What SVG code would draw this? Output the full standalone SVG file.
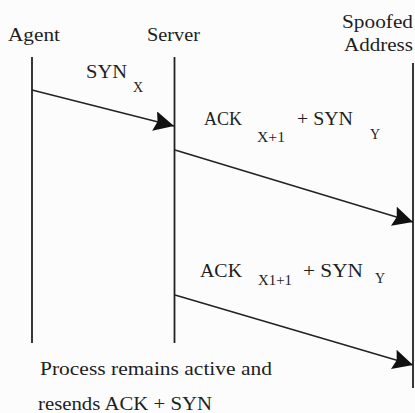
<svg xmlns="http://www.w3.org/2000/svg" width="415" height="413" viewBox="0 0 415 413">
  <style>
    text { font-family: "Liberation Serif", "Times New Roman", serif; fill: #1e1e1e; }
    .lbl { font-size: 18.5px; }
    .sub { font-size: 14px; }
    .life { stroke: #222; stroke-width: 1.8; fill: none; }
    .msg { stroke: #222; stroke-width: 1.5; fill: none; marker-end: url(#head); }
  </style>
  <defs>
    <marker id="head" viewBox="0 0 20 20" refX="20" refY="10" markerWidth="20" markerHeight="20" markerUnits="userSpaceOnUse" orient="auto">
      <path d="M0,0 L20,10 L0,20 L3,10 z" fill="#111"/>
    </marker>
  </defs>
  <rect width="415" height="413" fill="#fcfcfc"/>

  <g id="agent">
    <text class="lbl" x="8" y="41" textLength="52" lengthAdjust="spacingAndGlyphs">Agent</text>
    <line class="life" x1="32" y1="57" x2="32" y2="343"/>
  </g>
  <g id="server">
    <text class="lbl" x="147" y="41" textLength="53" lengthAdjust="spacingAndGlyphs">Server</text>
    <line class="life" x1="174.5" y1="57" x2="174.5" y2="343"/>
  </g>
  <g id="spoofed-address">
    <text class="lbl" x="342" y="28" textLength="71" lengthAdjust="spacingAndGlyphs">Spoofed</text>
    <text class="lbl" x="344" y="51" textLength="69" lengthAdjust="spacingAndGlyphs">Address</text>
    <line class="life" x1="413" y1="63" x2="413" y2="388"/>
  </g>

  <g id="connectors">
    <line class="msg" x1="32" y1="90" x2="174" y2="126"/>
    <line class="msg" x1="175" y1="150" x2="413" y2="222"/>
    <line class="msg" x1="175" y1="295" x2="413" y2="365"/>
  </g>

  <g id="labels">
    <text class="lbl" x="86" y="78" textLength="41" lengthAdjust="spacingAndGlyphs">SYN</text>
    <text class="sub" x="133" y="92">X</text>

    <text class="lbl" x="204" y="125" textLength="38" lengthAdjust="spacingAndGlyphs">ACK</text>
    <text class="sub" x="257" y="142" textLength="28" lengthAdjust="spacingAndGlyphs">X+1</text>
    <text class="lbl" x="297" y="125" textLength="56" lengthAdjust="spacingAndGlyphs">+ SYN</text>
    <text class="sub" x="370" y="139">Y</text>

    <text class="lbl" x="200" y="277" textLength="42" lengthAdjust="spacingAndGlyphs">ACK</text>
    <text class="sub" x="258" y="285" textLength="34" lengthAdjust="spacingAndGlyphs">X1+1</text>
    <text class="lbl" x="303" y="277" textLength="60" lengthAdjust="spacingAndGlyphs">+ SYN</text>
    <text class="sub" x="375" y="283">Y</text>

    <text class="lbl" x="40" y="375" textLength="232" lengthAdjust="spacingAndGlyphs">Process remains active and</text>
    <text class="lbl" x="38" y="410" textLength="174" lengthAdjust="spacingAndGlyphs">resends ACK + SYN</text>
  </g>
</svg>
